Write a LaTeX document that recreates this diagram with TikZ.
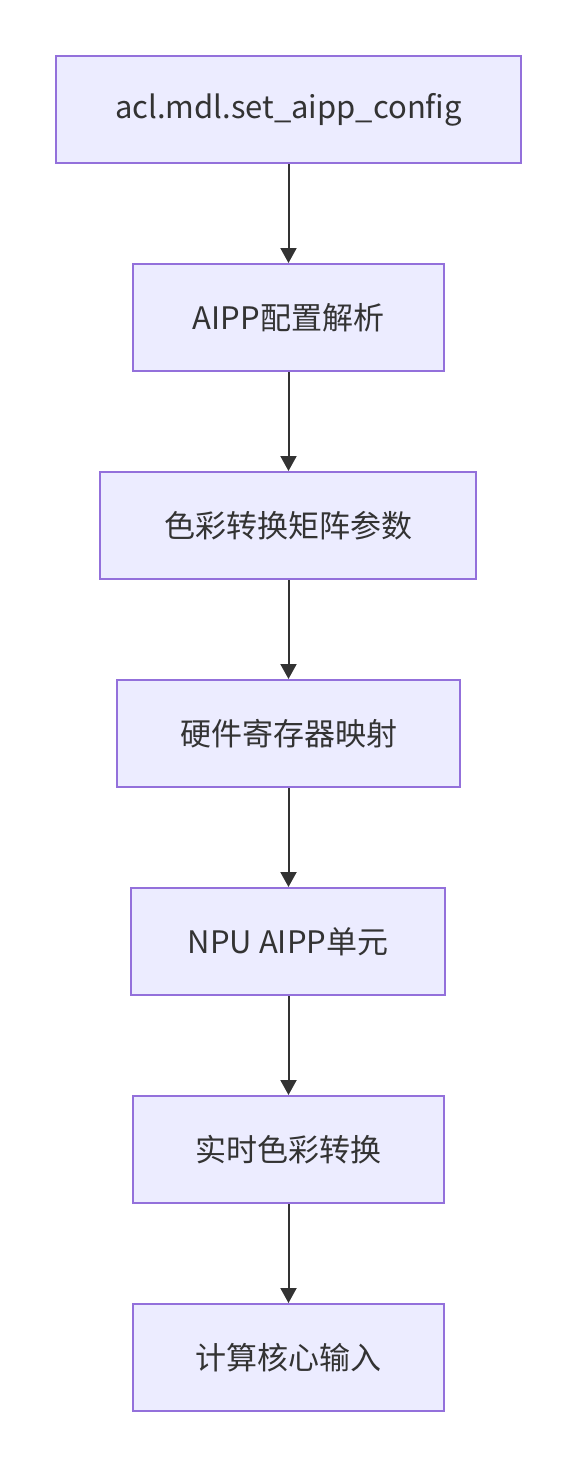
\documentclass[tikz,border=0pt]{standalone}
\usepackage{fontspec}
\setmainfont{Noto Sans CJK SC}
\usetikzlibrary{arrows.meta}
\definecolor{boxfill}{HTML}{ECECFF}
\definecolor{boxdraw}{HTML}{9370DB}
\definecolor{linec}{HTML}{333333}
\begin{document}
\begin{tikzpicture}[x=1pt,y=-1pt,
  flowbox/.style={draw=boxdraw,fill=boxfill,line width=2pt,minimum height=107pt,inner sep=0pt,
    font=\fontsize{31}{37}\selectfont,text=linec},
  conn/.style={draw=linec,line width=2pt,-{Triangle[length=15pt,width=16pt]}}]
\useasboundingbox (0,0) rectangle (577,1468);
\node[flowbox,minimum width=465pt] (a) at (288.5,109.5) {acl.mdl.set\_aipp\_config};
\node[flowbox,minimum width=311pt] (b) at (288.5,317.5) {AIPP配置解析};
\node[flowbox,minimum width=376pt] (c) at (288,525.5) {色彩转换矩阵参数};
\node[flowbox,minimum width=343pt] (d) at (288.5,733.5) {硬件寄存器映射};
\node[flowbox,minimum width=314pt] (e) at (288,941.5) {NPU AIPP单元};
\node[flowbox,minimum width=311pt] (f) at (288.5,1149.5) {实时色彩转换};
\node[flowbox,minimum width=311pt] (g) at (288.5,1357.5) {计算核心输入};
\draw[conn] (a.south -| 288.5,0) -- (b.north -| 288.5,0);
\draw[conn] (b.south -| 288.5,0) -- (c.north -| 288.5,0);
\draw[conn] (c.south -| 288.5,0) -- (d.north -| 288.5,0);
\draw[conn] (d.south -| 288.5,0) -- (e.north -| 288.5,0);
\draw[conn] (e.south -| 288.5,0) -- (f.north -| 288.5,0);
\draw[conn] (f.south -| 288.5,0) -- (g.north -| 288.5,0);
\end{tikzpicture}
\end{document}
